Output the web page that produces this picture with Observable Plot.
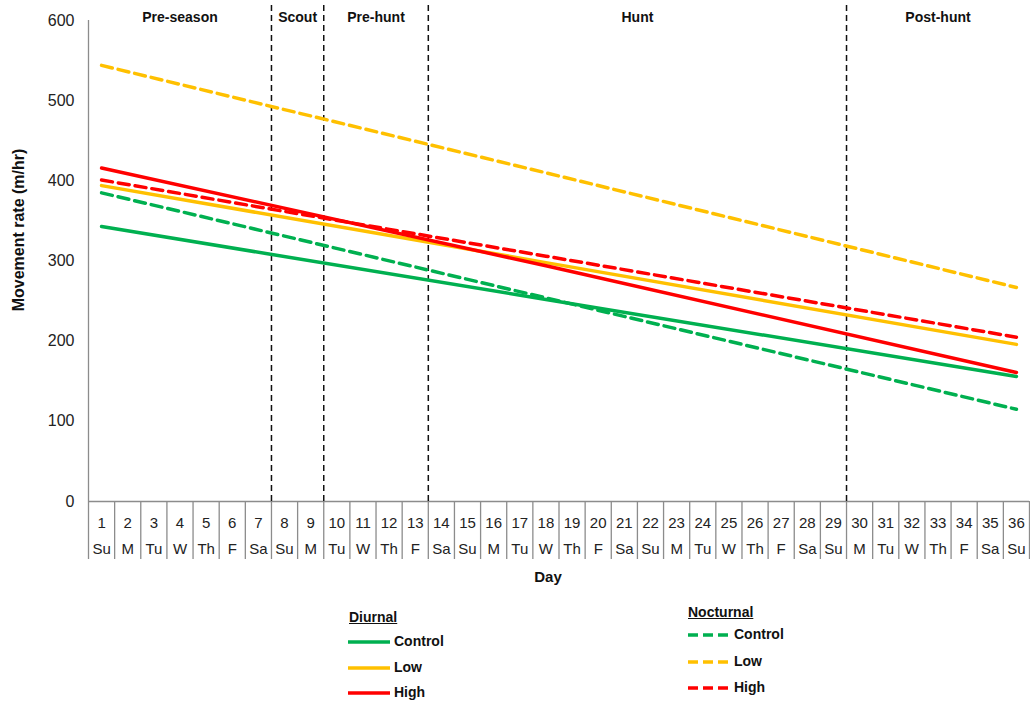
<!DOCTYPE html>
<html>
<head>
<meta charset="utf-8">
<script src="https://cdn.jsdelivr.net/npm/d3@7"></script>
<script src="https://cdn.jsdelivr.net/npm/@observablehq/plot@0.6"></script>
<style>
  body { margin: 0; background: #fff; font-family: Arial, "Liberation Sans", sans-serif; }
  #wrap { position: relative; width: 1030px; height: 703px; }
  #chart svg { display: block; }
  .lg { position: absolute; font-size: 14px; font-weight: bold; color: #111; line-height: 1; }
  .lg-title { text-decoration: underline; }
  .sw { position: absolute; }
</style>
</head>
<body>
<div id="wrap">
  <div id="chart"></div>
  <div id="legend"></div>
</div>
<script>
// ---- data ----
const dayNumbers = [1,2,3,4,5,6,7,8,9,10,11,12,13,14,15,16,17,18,19,20,21,22,23,24,25,26,27,28,29,30,31,32,33,34,35,36];
const weekdays = ["Su","M","Tu","W","Th","F","Sa","Su","M","Tu","W","Th","F","Sa","Su","M","Tu","W","Th","F","Sa","Su","M","Tu","W","Th","F","Sa","Su","M","Tu","W","Th","F","Sa","Su"];
const periodNames = ["Pre-season","Scout","Pre-hunt","Hunt","Post-hunt"];
const periodEdges = [0.5, 7.5, 9.5, 13.5, 29.5, 36.5];
const yTicks = [0,100,200,300,400,500,600];

const seriesDays = [1, 18, 36];
const diurnalControl   = [343, 252, 156];
const diurnalLow       = [394, 298, 196];
const diurnalHigh      = [416, 294, 161];
const nocturnalControl = [385, 254, 115];
const nocturnalLow     = [544, 410, 267];
const nocturnalHigh    = [401, 306, 205];

const colors = {Control: "#00B050", Low: "#FFC000", High: "#FF0000"};

// ---- build tables ----
const seriesDefs = [
  {group: "Diurnal", level: "Control", values: diurnalControl},
  {group: "Diurnal", level: "Low", values: diurnalLow},
  {group: "Diurnal", level: "High", values: diurnalHigh},
  {group: "Nocturnal", level: "Control", values: nocturnalControl},
  {group: "Nocturnal", level: "Low", values: nocturnalLow},
  {group: "Nocturnal", level: "High", values: nocturnalHigh}
];
const rows = seriesDefs.flatMap(s => s.values.map((v, i) => ({
  key: s.group + " " + s.level, group: s.group, level: s.level, day: seriesDays[i], value: v
})));
const diurnalRows = rows.filter(r => r.group === "Diurnal");
const nocturnalRows = rows.filter(r => r.group === "Nocturnal");

const dayTable = dayNumbers.map((d, i) => ({day: d, wd: weekdays[i]}));
const cellEdges = [0.5, ...dayNumbers.map(d => d + 0.5)];
const periodBreaks = periodEdges.slice(1, -1);
const periods = periodNames.map((n, i) => ({name: n, mid: (periodEdges[i] + periodEdges[i + 1]) / 2}));

const font = "Arial, 'Liberation Sans', sans-serif";
const gray = "#8c8c8c";

const chart = Plot.plot({
  width: 1030,
  height: 600,
  marginLeft: 88,
  marginRight: 1,
  marginTop: 20,
  marginBottom: 99,
  style: {fontFamily: font, background: "#fff", overflow: "visible"},
  x: {type: "linear", domain: [0.5, 36.5], axis: null},
  y: {domain: [0, 600], ticks: yTicks, tickSize: 0, tickPadding: 14, tickFormat: d => String(d), label: null, fontSize: 16},
  color: {domain: ["Control","Low","High"], range: [colors.Control, colors.Low, colors.High]},
  marks: [
    Plot.axisY({ticks: yTicks, tickSize: 0, tickPadding: 14, label: null, fontSize: 16, fill: "#222"}),
    // left axis line & baseline
    Plot.ruleX([0.5], {y1: 600, y2: 0, stroke: gray, strokeWidth: 1.3}),
    Plot.ruleY([0], {stroke: gray, strokeWidth: 1.3}),
    // category table below axis
    Plot.ruleX(cellEdges, {x: d => d, y1: 0, y2: 0, insetBottom: -58, stroke: gray, strokeWidth: 1.3}),
    Plot.text(dayTable, {x: "day", y: 0, dy: 22, text: d => String(d.day), fontSize: 15, fill: "#222"}),
    Plot.text(dayTable, {x: "day", y: 0, dy: 48, text: "wd", fontSize: 15, fill: "#222"}),
    // period separators
    Plot.ruleX(periodBreaks, {x: d => d, y1: 600, y2: 0, insetTop: -15, stroke: "#111", strokeWidth: 1.5, strokeDasharray: "6,4"}),
    Plot.text(periods, {x: "mid", y: 600, dy: -3, text: "name", fontSize: 14, fontWeight: "bold", fill: "#111"}),
    // series
    Plot.line(diurnalRows, {x: "day", y: "value", z: "key", stroke: "level", strokeWidth: 3.5}),
    Plot.line(nocturnalRows, {x: "day", y: "value", z: "key", stroke: "level", strokeWidth: 3.5, strokeDasharray: "11,6"}),
    // axis titles
    Plot.text(["Day"], {frameAnchor: "bottom", dy: 80, dx: -11, text: d => d, fontSize: 15, fontWeight: "bold", fill: "#111"}),
    Plot.text(["Movement rate (m/hr)"], {frameAnchor: "left", textAnchor: "middle", dx: -70, dy: -31, rotate: -90, text: d => d, fontSize: 16, fontWeight: "bold", fill: "#111"})
  ]
});
document.getElementById("chart").appendChild(chart);

// ---- legend (HTML below the svg) ----
const legend = document.getElementById("legend");
const legendGroups = [
  {title: "Diurnal", dash: null, tx: 349, ty: 610, sx: 348, sw: 42, lx: 394, ys: [642, 668, 693]},
  {title: "Nocturnal", dash: "10,5", tx: 688, ty: 605, sx: 688, sw: 40, lx: 734, ys: [635, 662, 688]}
];
const levels = ["Control", "Low", "High"];
legendGroups.forEach(g => {
  const t = document.createElement("div");
  t.className = "lg lg-title";
  t.style.left = g.tx + "px"; t.style.top = g.ty + "px";
  t.textContent = g.title;
  legend.appendChild(t);
  levels.forEach((lv, i) => {
    const svg = d3.create("svg").attr("class", "sw").attr("width", g.sw).attr("height", 6)
      .style("left", g.sx + "px").style("top", (g.ys[i] - 3) + "px");
    svg.append("line").attr("x1", 0).attr("x2", g.sw).attr("y1", 3).attr("y2", 3)
      .attr("stroke", colors[lv]).attr("stroke-width", 3.5)
      .attr("stroke-dasharray", g.dash);
    legend.appendChild(svg.node());
    const l = document.createElement("div");
    l.className = "lg";
    l.style.left = g.lx + "px"; l.style.top = (g.ys[i] - 8) + "px";
    l.textContent = lv;
    legend.appendChild(l);
  });
});
</script>
</body>
</html>
